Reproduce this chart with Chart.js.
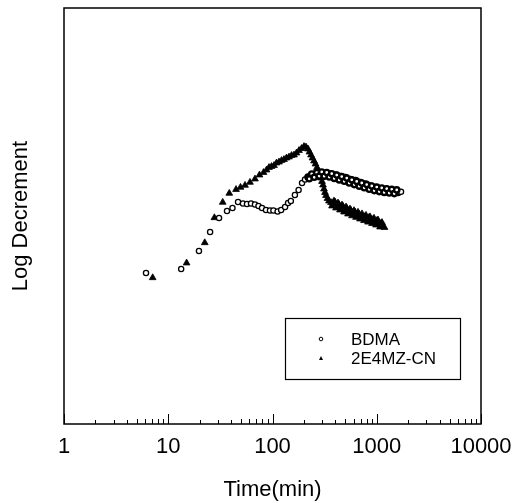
<!DOCTYPE html>
<html>
<head>
<meta charset="utf-8">
<script src="https://cdn.jsdelivr.net/npm/chart.js"></script>
<style>
  html, body { margin: 0; padding: 0; background: #fff; }
  #chartcontainer { width: 515px; height: 503px; }
</style>
</head>
<body>
<div id="chartcontainer"><canvas id="myChart" width="515" height="503"></canvas></div>
<script>
// series names
var seriesNames = ["BDMA", "2E4MZ-CN"];

// BDMA : time (min) and log decrement (arbitrary units)
var bdmaTime = [6.12, 13.3, 19.7, 25.2, 30.7, 36.6, 41.3, 46.7, 52.1, 56.9, 62.2, 67.9, 73.4, 79.3, 86.6, 94.6,
  102, 112, 121, 132, 141, 150, 164, 178, 192, 205,
  219, 231.5, 244.6, 258.5, 273.3, 288.7, 305.1, 322.4, 340.8, 360.1, 380.5, 402.2, 424.9, 449.1,
  474.6, 501.4, 529.9, 560, 591.8, 625.5, 660.9, 698.5, 738.1, 780.1, 824.5, 871, 920.5, 972.7,
  1028, 1086, 1148, 1213, 1282, 1355, 1432, 1513, 1599, 1709];
var bdmaLogDec = [0.151, 0.155, 0.173, 0.192, 0.206, 0.213, 0.216, 0.222, 0.2205, 0.220, 0.2205, 0.2195, 0.218, 0.216, 0.214, 0.2135,
  0.2135, 0.2125, 0.214, 0.217, 0.221, 0.223, 0.229, 0.234, 0.241, 0.2445,
  0.247, 0.248, 0.2485, 0.250, 0.2495, 0.251, 0.2495, 0.2505, 0.249, 0.250, 0.2475, 0.249, 0.2465, 0.2475,
  0.245, 0.2465, 0.244, 0.2445, 0.242, 0.2435, 0.2405, 0.2415, 0.2385, 0.240, 0.2365, 0.238, 0.235, 0.2365,
  0.234, 0.235, 0.233, 0.2345, 0.2325, 0.2335, 0.232, 0.233, 0.2315, 0.2323];
// BDMA: the scattered readings that make the thick band after 200 min
var bdmaBandTime = [225.2, 238, 251.5, 265.8, 280.8, 296.8, 313.6, 331.4, 350.3, 370.1, 391.2, 413.3,
  436.9, 461.6, 487.8, 515.5, 544.8, 575.7, 608.4, 642.9, 679.4, 718, 758.8, 801.9,
  847.4, 895.5, 946.3, 1000, 1057, 1117, 1180, 1247, 1318, 1393, 1472, 1555];
var bdmaBandLogDec = [0.2452, 0.250, 0.2467, 0.2514, 0.2479, 0.252, 0.2478, 0.2515, 0.247, 0.2503, 0.2456, 0.2489,
  0.2441, 0.2474, 0.2427, 0.2459, 0.241, 0.2442, 0.2394, 0.2426, 0.2378, 0.241, 0.2362, 0.2394,
  0.2347, 0.238, 0.2334, 0.2369, 0.2324, 0.236, 0.2316, 0.2353, 0.231, 0.2347, 0.2304, 0.2341];

// 2E4MZ-CN
var mzTime = [7.09, 15.0, 22.4, 27.7, 33.3, 38.5, 44.7, 49.3, 54.5, 60.8, 67.9, 75.0, 82.0,
  87.6, 92.5, 97.8, 103.4, 109.2, 115.5, 122, 128.9, 136.2, 144, 152.2, 160.8, 169.9, 179.6, 189.8, 200.5, 209.6,
  219, 226.4, 234, 241.9, 250.1, 258.5, 267.3, 276.2, 285.5, 291.9, 298.4, 305.1, 311.9, 318.9, 326, 337, 348.3,
  364, 380.5, 397.7, 415.6, 434.4, 454.1, 474.6, 496, 518.3, 541.8, 566.2, 591.8, 618.5, 646.6, 675.5, 706.2,
  738.1, 771.5, 806.3, 842.8, 880.8, 920.5, 962.1, 1006, 1051, 1099, 1148, 1187];
var mzLogDec = [0.1463, 0.161, 0.1813, 0.2063, 0.2217, 0.2307, 0.2345, 0.2367, 0.2387, 0.2417, 0.245, 0.249, 0.2515,
  0.254, 0.2565, 0.2575, 0.2585, 0.261, 0.262, 0.2635, 0.2645, 0.266, 0.267, 0.2685, 0.269, 0.271, 0.2735, 0.2755, 0.2775, 0.277,
  0.275, 0.272, 0.269, 0.266, 0.263, 0.260, 0.2565, 0.253, 0.2495, 0.246, 0.2425, 0.239, 0.235, 0.2315, 0.2285, 0.2255, 0.223,
  0.2215, 0.2205, 0.222, 0.218, 0.2195, 0.216, 0.2175, 0.214, 0.2155, 0.212, 0.2135, 0.2105, 0.212, 0.2085, 0.210, 0.2075,
  0.207, 0.2075, 0.2055, 0.2065, 0.204, 0.2045, 0.2025, 0.2035, 0.2005, 0.2005, 0.1975, 0.1965];
// 2E4MZ-CN: scattered readings of the thick falling band
var mzBandTime = [372.2, 389, 406.6, 424.9, 444.1, 464.2, 485.2, 507, 529.9, 553.8, 578.8, 605.1, 632.4,
  660.9, 690.8, 722, 754.6, 788.7, 824.5, 861.7, 900.5, 941, 983.5, 1028, 1075, 1123];
var mzBandLogDec = [0.218, 0.223, 0.216, 0.221, 0.214, 0.219, 0.212, 0.217, 0.210, 0.215, 0.2082, 0.2134, 0.2066,
  0.2118, 0.205, 0.2102, 0.2034, 0.2087, 0.2019, 0.2072, 0.2005, 0.2058, 0.199, 0.204, 0.197, 0.2015];

var xTickLabels = ["1", "10", "100", "1000", "10000"];

function toPoints(xs, ys) {
  var pts = [];
  for (var i = 0; i < xs.length; i++) pts.push({x: xs[i], y: ys[i]});
  return pts;
}

var FONT = "'Liberation Sans', Arial, sans-serif";

// frame, inward log ticks and boxed legend
var framePlugin = {
  id: 'framePlugin',
  afterDraw: function(chart) {
    var ctx = chart.ctx;
    var a = chart.chartArea;
    var xs = chart.scales.x;
    ctx.save();
    ctx.strokeStyle = '#000';
    ctx.lineWidth = 1.5;
    ctx.strokeRect(a.left, a.top, a.right - a.left, a.bottom - a.top);

    ctx.lineWidth = 1;
    ctx.beginPath();
    for (var d = 1; d <= 10000; d *= 10) {
      for (var m = 1; m <= 9; m++) {
        var v = d * m;
        if (v > 10000) break;
        var px = Math.round(xs.getPixelForValue(v)) + 0.5;
        var len = (m === 1) ? 10 : (m >= 5 ? 5 : 4);
        ctx.moveTo(px, a.bottom);
        ctx.lineTo(px, a.bottom - len);
      }
    }
    ctx.stroke();

    // legend
    var lx = a.left + 221, ly = a.top + 310, lw = 175, lh = 61;
    ctx.lineWidth = 1.2;
    ctx.strokeRect(lx + 0.5, ly + 0.5, lw, lh);
    ctx.font = '17px ' + FONT;
    ctx.fillStyle = '#000';
    ctx.textBaseline = 'middle';
    ctx.fillText(seriesNames[0], lx + 66, ly + 22);
    ctx.fillText(seriesNames[1], lx + 66, ly + 41);
    ctx.beginPath();
    ctx.arc(lx + 36, ly + 21, 1.8, 0, Math.PI * 2);
    ctx.lineWidth = 1;
    ctx.stroke();
    ctx.beginPath();
    ctx.moveTo(lx + 36, ly + 38);
    ctx.lineTo(lx + 38, ly + 42);
    ctx.lineTo(lx + 34, ly + 42);
    ctx.closePath();
    ctx.fill();
    ctx.restore();
  }
};

var ctx = document.getElementById("myChart").getContext("2d");

window.chart = new Chart(ctx, {
  type: 'scatter',
  data: {
    datasets: [{
      label: seriesNames[0],
      data: toPoints(bdmaTime, bdmaLogDec).concat(toPoints(bdmaBandTime, bdmaBandLogDec)),
      pointStyle: 'circle',
      pointRadius: 2.6,
      // the dense part of the run is printed as a heavy band
      borderWidth: function(c) { return (c.raw && c.raw.x > 215 && c.raw.x < 1650) ? 2.4 : 1.3; },
      borderColor: '#000',
      backgroundColor: '#fff'
    }, {
      label: seriesNames[1],
      data: toPoints(mzTime, mzLogDec).concat(toPoints(mzBandTime, mzBandLogDec)),
      pointStyle: 'triangle',
      pointRadius: 3.9,
      borderWidth: 0.8,
      borderColor: '#000',
      backgroundColor: '#000'
    }]
  },
  options: {
    responsive: false,
    animation: false,
    devicePixelRatio: 1,
    layout: {
      padding: { left: 0, top: 8, right: 34, bottom: 0 }
    },
    plugins: {
      legend: { display: false },
      tooltip: { enabled: false }
    },
    scales: {
      x: {
        type: 'logarithmic',
        min: 1,
        max: 10000,
        grid: { display: false, drawTicks: false },
        border: { display: false },
        ticks: {
          autoSkip: false,
          maxRotation: 0,
          padding: 10,
          color: '#000',
          font: { family: FONT, size: 22 },
          callback: function(v) {
            var l = Math.log10(v);
            if (Math.abs(l - Math.round(l)) < 1e-9) return xTickLabels[Math.round(l)];
            return '';
          }
        },
        title: {
          display: true,
          text: 'Time(min)',
          color: '#000',
          font: { family: FONT, size: 22 },
          padding: { top: 0, bottom: 0 }
        },
        afterFit: function(s) { s.height = 79; s.paddingLeft = 0; s.paddingRight = 0; }
      },
      y: {
        min: 0,
        max: 0.416,
        grid: { display: false, drawTicks: false },
        border: { display: false },
        ticks: { display: false },
        title: {
          display: true,
          text: 'Log Decrement',
          color: '#000',
          font: { family: FONT, size: 22 },
          padding: { top: 8, bottom: 0 }
        },
        afterFit: function(s) { s.width = 64; s.paddingTop = 0; s.paddingBottom = 0; }
      }
    }
  },
  plugins: [framePlugin]
});
</script>
</body>
</html>
